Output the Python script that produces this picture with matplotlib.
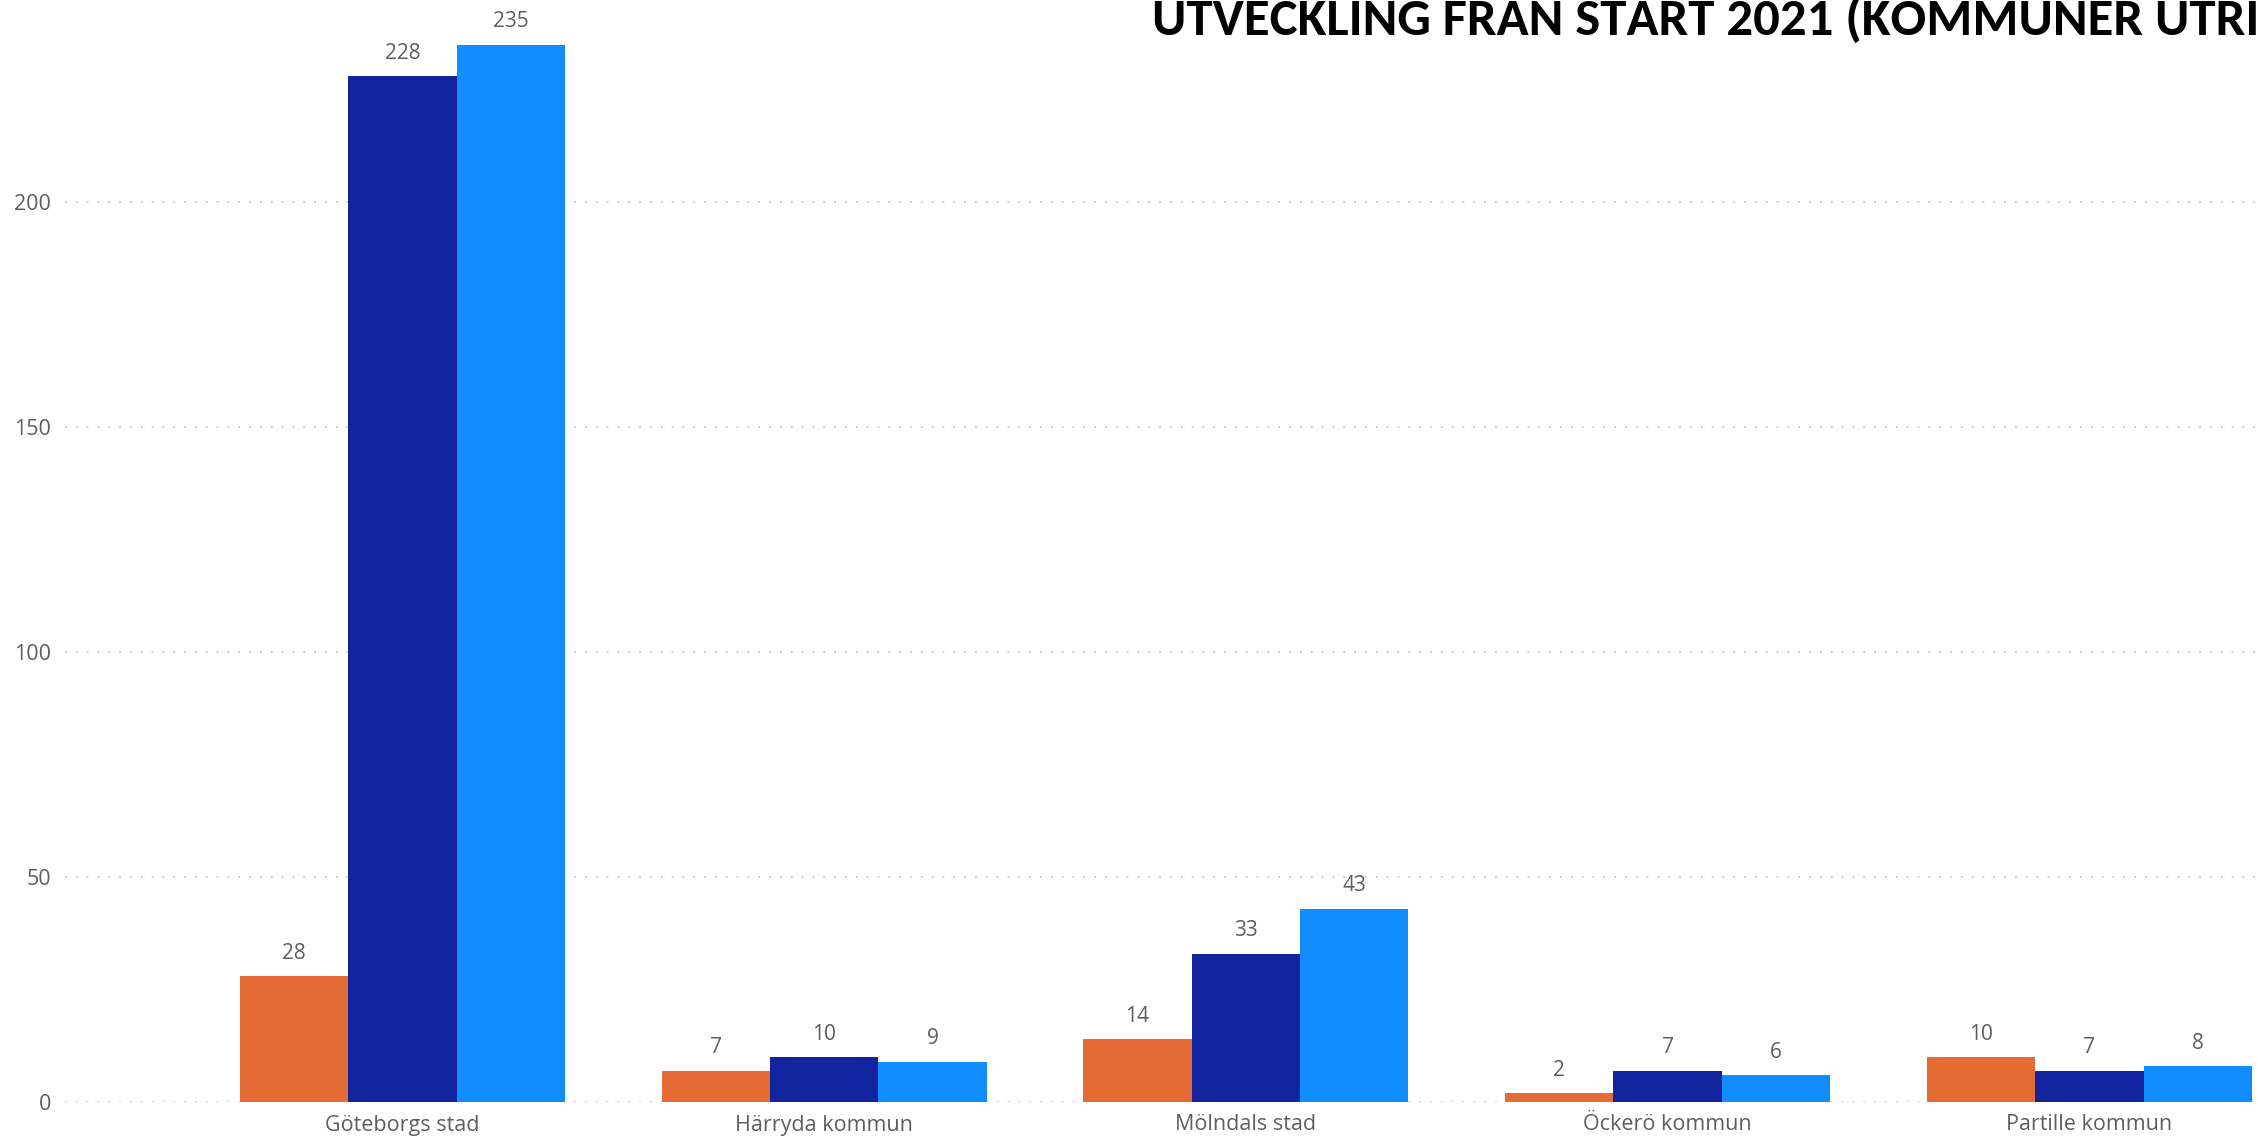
import matplotlib.pyplot as plt
import numpy as np

kommuner = ["Göteborgs stad", "Härryda kommun", "Mölndals stad", "Öckerö kommun", "Partille kommun"]
serie_2021 = [28, 7, 14, 2, 10]
serie_2022 = [228, 10, 33, 7, 7]
serie_2023 = [235, 9, 43, 6, 8]
serier = [serie_2021, serie_2022, serie_2023]
farger = ["#E66C37", "#12239E", "#118DFF"]

label_color = "#605E5C"
etikett_font = ["Open Sans", "DejaVu Sans"]
titel_font = ["Carlito", "Open Sans Condensed", "Roboto Condensed", "Liberation Sans Narrow", "DejaVu Sans"]

fig = plt.figure(figsize=(22.58, 11.39), dpi=100)
ax = fig.add_axes([65 / 2258, 1 - 1102 / 1139, 1 - 65 / 2258, 1102 / 1139])

x = np.arange(len(kommuner))
bredd = 0.257
for i, (varden, farg) in enumerate(zip(serier, farger)):
    pos = x + (i - 1) * bredd
    staplar = ax.bar(pos, varden, width=bredd, color=farg, zorder=3)
    for rect, v in zip(staplar, varden):
        ax.annotate(str(v), (rect.get_x() + rect.get_width() / 2, rect.get_height()),
                    xytext=(0, 9), textcoords="offset points",
                    ha="center", va="bottom", fontsize=15, color=label_color,
                    family=etikett_font, annotation_clip=False)

ax.set_xlim(-0.8, 4.4)
ax.set_ylim(0, 244.9)
ax.set_yticks([0, 50, 100, 150, 200])
ax.set_xticks(x)
ax.set_xticklabels(kommuner)

# Stödlinjer
ax.grid(axis="y", linestyle=(0, (1, 5)), color="#C8C6C4", linewidth=1.3, zorder=0)
ax.set_axisbelow(True)
for s in ax.spines.values():
    s.set_visible(False)
ax.tick_params(axis="both", length=0, labelsize=15.5, labelcolor=label_color)
ax.tick_params(axis="y", pad=10)
ax.tick_params(axis="x", pad=9)
for t in ax.get_xticklabels() + ax.get_yticklabels():
    t.set_family(etikett_font)

# Titeln går ut över högerkanten som i originalet
fig.text(1152 / 2258, 1 - 35 / 1139, "UTVECKLING FRÅN START 2021 (KOMMUNER UTRIKES FÖDDA)",
         fontsize=38, fontweight="bold", color="black", va="baseline",
         family=titel_font)

fig.savefig("out.png", dpi=100)
